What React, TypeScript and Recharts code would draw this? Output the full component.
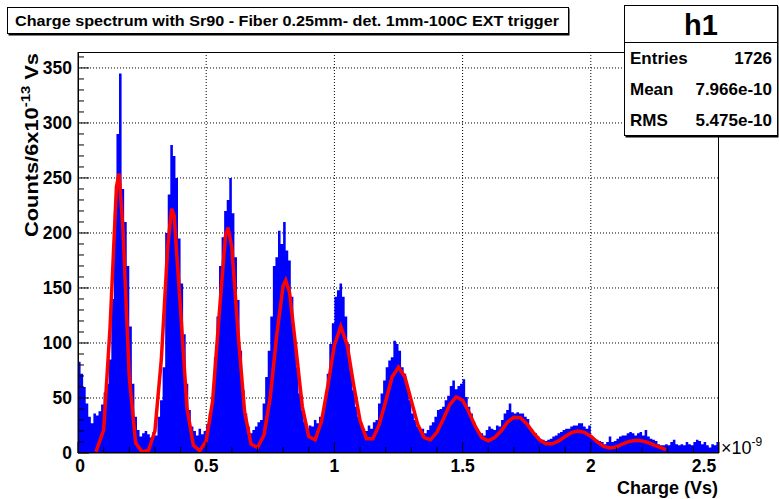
import React from 'react';
import { ComposedChart, Area, Line, XAxis, YAxis, CartesianGrid } from 'recharts';

// histogram counts, one value per 0.01e-9 Vs bin, starting at 0
const binWidth = 0.01;
const histCounts = [
  83, 72, 60, 45, 33, 27, 36, 34, 38, 44,
  55, 63, 85, 140, 220, 290, 345, 240, 210, 170,
  115, 63, 33, 21, 15, 18, 20, 17, 14, 19,
  16, 33, 48, 78, 200, 235, 280, 270, 250, 195,
  154, 108, 63, 39, 24, 20, 16, 22, 17, 20,
  26, 36, 48, 87, 124, 170, 196, 220, 230, 250,
  218, 178, 139, 93, 57, 36, 24, 18, 21, 24,
  28, 30, 45, 69, 93, 124, 170, 178, 202, 190,
  210, 184, 175, 142, 108, 78, 54, 39, 28, 22,
  25, 24, 30, 27, 33, 36, 48, 72, 99, 118,
  142, 148, 154, 142, 124, 99, 75, 57, 42, 33,
  27, 22, 20, 25, 22, 28, 30, 45, 54, 66,
  78, 84, 87, 102, 99, 93, 78, 72, 60, 48,
  36, 30, 24, 20, 22, 18, 21, 25, 28, 33,
  39, 40, 42, 48, 52, 61, 66, 58, 61, 63,
  67, 51, 42, 36, 28, 22, 19, 18, 16, 21,
  24, 22, 21, 25, 24, 30, 36, 39, 45, 37,
  36, 37, 36, 36, 33, 31, 22, 19, 18, 15,
  12, 12, 11, 12, 13, 15, 16, 18, 19, 21,
  22, 22, 24, 25, 25, 27, 27, 24, 22, 25,
  15, 13, 12, 11, 10, 8, 10, 15, 10, 11,
  13, 15, 16, 16, 18, 19, 18, 16, 18, 19,
  16, 21, 15, 13, 12, 11, 8, 7, 7, 8,
  7, 10, 12, 8, 7, 8, 7, 10, 8, 7,
  10, 12, 11, 8, 10, 7, 5, 8, 7, 10,
];

// fitted function, drawn as a polyline
const fitX = [
  0.07, 0.1, 0.125, 0.15, 0.16, 0.175, 0.2, 0.225, 0.25, 0.275,
  0.3, 0.325, 0.35, 0.365, 0.375, 0.4, 0.425, 0.45, 0.475, 0.5,
  0.525, 0.55, 0.575, 0.585, 0.6, 0.625, 0.65, 0.675, 0.7, 0.725,
  0.75, 0.775, 0.8, 0.81, 0.825, 0.85, 0.875, 0.9, 0.925, 0.95,
  0.975, 1.0, 1.025, 1.05, 1.075, 1.1, 1.125, 1.15, 1.175, 1.2,
  1.225, 1.25, 1.275, 1.3, 1.325, 1.35, 1.375, 1.4, 1.425, 1.45,
  1.475, 1.5, 1.525, 1.55, 1.575, 1.6, 1.625, 1.65, 1.675, 1.7,
  1.725, 1.75, 1.775, 1.8, 1.825, 1.85, 1.875, 1.9, 1.925, 1.95,
  1.975, 2.0, 2.025, 2.05, 2.075, 2.1, 2.125, 2.15, 2.175, 2.2,
  2.225, 2.25, 2.275, 2.293,
];
const fitY = [
  1, 21, 114, 242, 254, 205, 69, 9, 1, 2.5,
  20, 85, 188, 222, 216, 130, 41, 7, 2, 11,
  47, 124, 197, 205, 187, 107, 37, 8, 5, 16,
  51, 107, 152, 157, 146, 95, 42, 15, 12, 29,
  62, 98, 115, 98, 62, 29.5, 13, 13, 26, 47,
  69, 78, 69, 47.5, 26, 14, 12, 19, 31, 44,
  51, 48, 37, 24, 14, 11, 14, 20, 28, 32.5,
  32, 26.6, 18.8, 12, 8.3, 8.3, 11, 15, 18.6, 20,
  18.8, 15.3, 10, 6, 4.5, 5.5, 8.4, 10.5, 11.5, 11,
  9.3, 7, 4.6, 3,
];

const xTicks = [
  0, 0.1, 0.2, 0.3, 0.4, 0.5, 0.6, 0.7, 0.8, 0.9, 1, 1.1, 1.2, 1.3,
  1.4, 1.5, 1.6, 1.7, 1.8, 1.9, 2, 2.1, 2.2, 2.3, 2.4, 2.5,
];
const xGrid = [0.5, 1, 1.5, 2];
const yTicks = [
  0, 10, 20, 30, 40, 50, 60, 70, 80, 90, 100, 110, 120, 130, 140, 150, 160, 170, 180,
  190, 200, 210, 220, 230, 240, 250, 260, 270, 280, 290, 300, 310, 320, 330, 340, 350, 360,
];
const yGrid = [50, 100, 150, 200, 250, 300, 350];

const title = 'Charge spectrum with Sr90 - Fiber 0.25mm- det. 1mm-100C EXT trigger';
const statsName = 'h1';
const statsRows = [
  ['Entries', '1726'],
  ['Mean', '7.966e-10'],
  ['RMS', '5.475e-10'],
];

const histData = histCounts.map((c, i) => ({ x: Math.round(i * binWidth * 1000) / 1000, h: c }));
histData.push({ x: 2.5, h: histCounts[histCounts.length - 1] });
const fitData = fitX.map((x, i) => ({ x, f: fitY[i] }));

const font = "'Liberation Sans', Arial, Helvetica, sans-serif";

const onStep = (v: number, step: number) => Math.abs(v / step - Math.round(v / step)) < 1e-6;

function XTick(props: any) {
  const { x, y, payload } = props;
  const major = onStep(payload.value, 0.5);
  // the last label sits left of its tick, clear of the exponent
  const lx = payload.value >= 2.5 ? x - 15 : payload.value === 0 ? x + 2 : x;
  return (
    <g>
      <line x1={x} y1={y} x2={x} y2={y - (major ? 11 : 6)} stroke="#000" />
      {major && (
        <text x={lx} y={y + 19} textAnchor="middle" fontFamily={font} fontWeight="bold" fontSize={17.5} fill="#000">
          {String(payload.value)}
        </text>
      )}
    </g>
  );
}

function YTick(props: any) {
  const { x, y, payload } = props;
  const major = onStep(payload.value, 50);
  return (
    <g>
      <line x1={x} y1={y} x2={x + (major ? 11 : 6)} y2={y} stroke="#000" />
      {major && (
        <text x={x - 6} y={y + 6} textAnchor="end" fontFamily={font} fontWeight="bold" fontSize={17.5} fill="#000">
          {String(payload.value)}
        </text>
      )}
    </g>
  );
}

export default function App() {
  return (
    <div style={{ position: 'absolute', left: 0, top: 0, width: 779, height: 499, background: '#fff' }}>
      <ComposedChart width={779} height={499} margin={{ top: 52, right: 60, bottom: 0, left: 0 }}>
        <CartesianGrid stroke="#000" strokeDasharray="1 2" horizontalValues={yGrid} verticalValues={xGrid} />
        <XAxis
          type="number"
          dataKey="x"
          domain={[0, 2.5]}
          ticks={xTicks}
          interval={0}
          tickSize={0}
          tickMargin={0}
          tickLine={false}
          tick={<XTick />}
          height={46}
          axisLine={{ stroke: '#000' }}
          allowDataOverflow
        />
        <YAxis
          type="number"
          domain={[0, 364.5]}
          ticks={yTicks}
          interval={0}
          tickSize={0}
          tickMargin={0}
          tickLine={false}
          tick={<YTick />}
          width={78}
          axisLine={{ stroke: '#000' }}
          allowDataOverflow
        />
        <Area
          data={histData}
          dataKey="h"
          type="stepAfter"
          fill="#0000ff"
          fillOpacity={1}
          stroke="none"
          isAnimationActive={false}
        />
        <Line
          data={fitData}
          dataKey="f"
          type="linear"
          stroke="#ff0000"
          strokeWidth={3.5}
          dot={false}
          isAnimationActive={false}
        />
      </ComposedChart>
      <svg width={779} height={499} style={{ position: 'absolute', left: 0, top: 0, pointerEvents: 'none' }}>
        <rect x={78.5} y={52.5} width={640} height={400} fill="none" stroke="#000" />
        {/* title pave */}
        <rect x={8.5} y={8.5} width={561} height={27} fill="#000" />
        <rect x={7.5} y={7.5} width={561} height={26} fill="#fff" stroke="#000" />
        <text x={15} y={26} fontFamily={font} fontWeight="bold" fontSize={15.5} textLength={544} lengthAdjust="spacingAndGlyphs" fill="#000">
          {title}
        </text>
        {/* stats box */}
        <rect x={625.5} y={6.5} width={153} height={131} fill="#000" />
        <rect x={624.5} y={5.5} width={153} height={130} fill="#fff" stroke="#000" />
        <line x1={624.5} y1={42.5} x2={777.5} y2={42.5} stroke="#000" />
        <text x={701} y={35} textAnchor="middle" fontFamily={font} fontWeight="bold" fontSize={29} fill="#000">
          {statsName}
        </text>
        {statsRows.map((r, i) => (
          <g key={r[0]}>
            <text x={630} y={64 + i * 31} fontFamily={font} fontWeight="bold" fontSize={17} fill="#000">
              {r[0]}
            </text>
            <text x={772} y={64 + i * 31} textAnchor="end" fontFamily={font} fontWeight="bold" fontSize={17} fill="#000">
              {r[1]}
            </text>
          </g>
        ))}
        {/* axis titles */}
        <text
          transform="translate(38,237) rotate(-90)"
          fontFamily={font}
          fontWeight="bold"
          fontSize={19}
          textLength={184}
          lengthAdjust="spacingAndGlyphs"
          fill="#000"
        >
          Counts/6x10
          <tspan dy={-8} fontSize={13}>-13</tspan>
          <tspan dy={8}> Vs</tspan>
        </text>
        <text x={718} y={494} textAnchor="end" fontFamily={font} fontWeight="bold" fontSize={18} fill="#000">
          Charge (Vs)
        </text>
        <text x={721} y={454} fontFamily={font} fontSize={18} fill="#000">
          ×10
          <tspan dy={-8} fontSize={12}>-9</tspan>
        </text>
      </svg>
    </div>
  );
}
